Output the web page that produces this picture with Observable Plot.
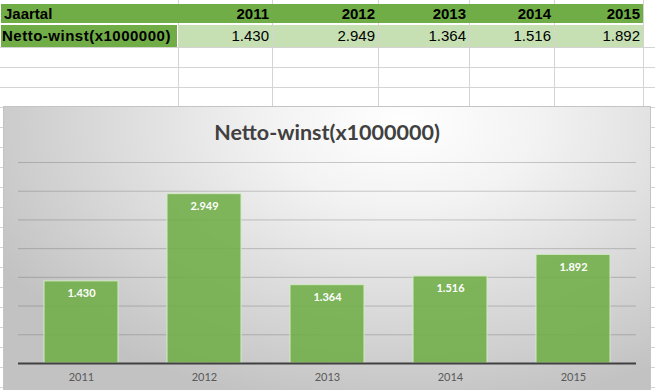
<!DOCTYPE html>
<html>
<head>
<meta charset="utf-8">
<script src="https://cdn.jsdelivr.net/npm/d3@7"></script>
<script src="https://cdn.jsdelivr.net/npm/@observablehq/plot@0.6"></script>
<style>
  html, body { margin: 0; padding: 0; }
  body {
    width: 655px; height: 390px; overflow: hidden; position: relative; background: #fff;
    font-family: "Liberation Sans", Arial, sans-serif;
  }
  .hline { position: absolute; left: 0; width: 655px; height: 1px; background: #d4d4d4; }
  .vline { position: absolute; top: 0; width: 1px; height: 390px; background: #d4d4d4; }
  .cell { position: absolute; box-sizing: border-box; font-size: 15px; line-height: 20px; color: #000; white-space: nowrap; }
  #chart {
    position: absolute; left: 3px; top: 106px; width: 648px; height: 290px; box-sizing: border-box;
    border: 1px solid #c4c4c4;
    background: radial-gradient(ellipse 72% 100% at 62% 6%, #ffffff 0%, #f3f3f3 28%, #dcdcdc 62%, #c2c2c2 100%);
    overflow: hidden;
  }
  #title {
    position: absolute; left: 0; width: 646px; top: 12px; text-align: center;
    font-family: Lato, sans-serif; font-weight: bold; font-size: 21.5px; line-height: 26px; color: #404040;
  }
  #plot { position: absolute; left: 0; top: 43px; }
</style>
</head>
<body>
<div id="table"></div>
<div id="chart"><div id="title"></div><div id="plot"></div></div>
<script>
const titleText = "Netto-winst(x1000000)";
const headerLabel = "Jaartal";
const years = ["2011", "2012", "2013", "2014", "2015"];
const values = [1.430, 2.949, 1.364, 1.516, 1.892];
const gridTicks = [0.5, 1, 1.5, 2, 2.5, 3, 3.5];

const fmt = v => v.toFixed(3);

// ---- spreadsheet table ----
const table = document.getElementById("table");
const colEdges = [0, 178, 272, 378, 469, 554, 643];
[47, 67, 87, 107, 127, 147, 167, 187, 207, 227, 247, 267, 287, 307, 327, 347, 367, 387].forEach(y => {
  const d = document.createElement("div"); d.className = "hline"; d.style.top = y + "px"; table.appendChild(d);
});
colEdges.slice(1).forEach(x => {
  const d = document.createElement("div"); d.className = "vline"; d.style.left = x + "px"; table.appendChild(d);
});
function cell(x0, x1, y0, y1, text, bg, bold, align) {
  const d = document.createElement("div");
  d.className = "cell";
  d.style.left = x0 + "px"; d.style.width = (x1 - x0) + "px";
  d.style.top = y0 + "px"; d.style.height = (y1 - y0) + "px";
  d.style.lineHeight = (y1 - y0) + "px";
  d.style.background = bg;
  d.style.fontWeight = bold ? "bold" : "normal";
  d.style.textAlign = align;
  d.style.padding = align === "right" ? "0 3px 0 0" : "0 0 0 3px";
  d.textContent = text;
  table.appendChild(d);
  return d;
}
// header row (continuous green band)
cell(1, 643, 4, 23, "", "#70ad47", true, "left");
cell(1, 178, 4, 23, headerLabel, "transparent", true, "left");
years.forEach((y, i) => cell(colEdges[i + 1], colEdges[i + 2], 4, 23, y, "transparent", true, "right"));
// data row
const lbl = cell(1, 177, 25, 47, titleText, "#70ad47", true, "left");
lbl.style.letterSpacing = "0.5px";
lbl.style.paddingLeft = "1px";
values.forEach((v, i) => cell(colEdges[i + 1] + 1, colEdges[i + 2], 25, 47, fmt(v), "#c6e0b4", false, "right"));

// ---- chart ----
document.getElementById("title").textContent = titleText;
const data = years.map((y, i) => ({year: y, value: values[i]}));

const chart = Plot.plot({
  width: 646,
  height: 240,
  marginTop: 12,
  marginBottom: 27,
  marginLeft: 14,
  marginRight: 14,
  style: {background: "transparent", fontFamily: "Lato, sans-serif", fontSize: "11px", color: "#595959", overflow: "visible"},
  x: {domain: years, paddingInner: 0.4, paddingOuter: 0.2, label: null, axis: null},
  y: {domain: [0, 3.5], label: null, axis: null},
  marks: [
    Plot.gridY(gridTicks, {stroke: "#595959", strokeOpacity: 0.3, strokeWidth: 1}),
    Plot.barY(data, {x: "year", y: "value", fill: "#70ad47", fillOpacity: 0.88, stroke: "#d3ebc5", strokeWidth: 1}),
    Plot.ruleY([0], {stroke: "#404040", strokeWidth: 2}),
    Plot.text(data, {x: "year", y: "value", text: d => fmt(d.value), dy: 16, lineAnchor: "bottom",
      fill: "white", fontWeight: "bold", fontSize: 11}),
    Plot.axisX({tickSize: 0, tickPadding: 10, label: null, fill: "#595959", fontSize: 11}),
  ]
});
document.getElementById("plot").appendChild(chart);
</script>
</body>
</html>
